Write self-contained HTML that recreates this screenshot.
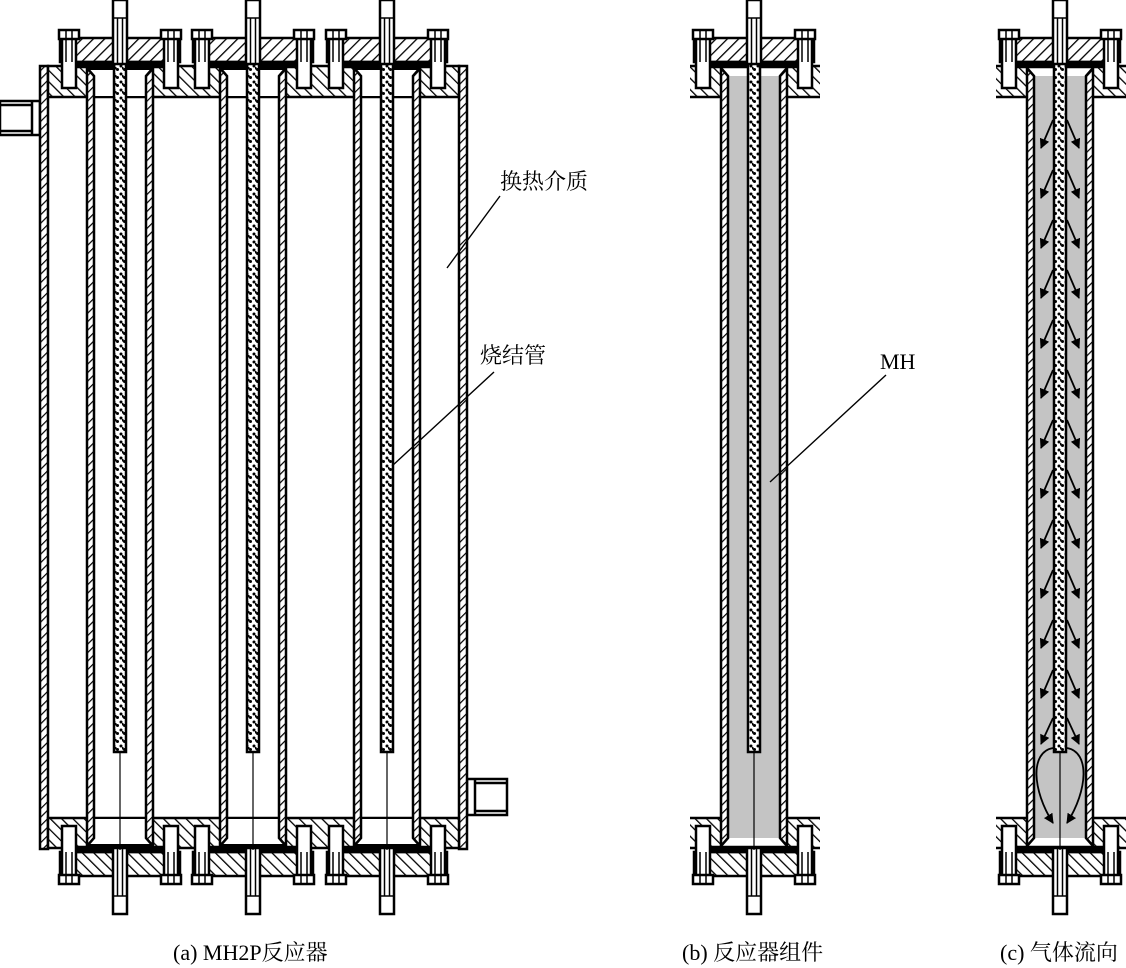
<!DOCTYPE html>
<html><head><meta charset="utf-8"><style>
html,body{margin:0;padding:0;background:#fff;width:1126px;height:968px;overflow:hidden}
svg{display:block}
text{font-family:"Liberation Serif","Noto Serif CJK SC","Noto Sans CJK SC",serif;font-size:22px;fill:#000}
</style></head><body>
<svg width="1126" height="968" viewBox="0 0 1126 968" xmlns="http://www.w3.org/2000/svg">
<defs>
<pattern id="hA" patternUnits="userSpaceOnUse" width="8" height="8" patternTransform="rotate(45)">
<rect width="8" height="8" fill="#fff"/><line x1="0" y1="0" x2="0" y2="8" stroke="#000" stroke-width="2.6"/></pattern>
<pattern id="hB" patternUnits="userSpaceOnUse" width="8" height="8" patternTransform="rotate(-45)">
<rect width="8" height="8" fill="#fff"/><line x1="0" y1="0" x2="0" y2="8" stroke="#000" stroke-width="2.6"/></pattern>
<pattern id="hW" patternUnits="userSpaceOnUse" width="6" height="6" patternTransform="rotate(45)">
<rect width="6" height="6" fill="#fff"/><line x1="0" y1="0" x2="0" y2="6" stroke="#000" stroke-width="2.4"/></pattern>
<pattern id="dots" patternUnits="userSpaceOnUse" width="7" height="8">
<rect width="7" height="8" fill="#fff"/><circle cx="2" cy="2" r="1.5" fill="#000"/><circle cx="5.5" cy="5.5" r="1.5" fill="#000"/><rect x="3" y="3" width="1.5" height="2.5" fill="#000"/></pattern>
<marker id="ar" markerWidth="10" markerHeight="10" refX="9" refY="5" orient="auto" markerUnits="userSpaceOnUse"><path d="M0,0 L10,5 L0,10 Z" fill="#000"/></marker>

<g id="cap" stroke="#000" stroke-width="2.5">
<rect x="-60" y="38" width="120" height="24" fill="url(#hA)"/>
<rect x="-58" y="38" width="14" height="50" fill="#fff"/>
<rect x="44" y="38" width="14" height="50" fill="#fff"/>
<rect x="-61" y="30" width="20" height="9" fill="#fff"/>
<rect x="41" y="30" width="20" height="9" fill="#fff"/>
<line x1="-54" y1="30" x2="-54" y2="62" stroke-width="1.5"/><line x1="-48" y1="30" x2="-48" y2="62" stroke-width="1.5"/>
<line x1="48" y1="30" x2="48" y2="62" stroke-width="1.5"/><line x1="54" y1="30" x2="54" y2="62" stroke-width="1.5"/>
<rect x="-42" y="62" width="84" height="5" fill="#000"/>
<rect x="-7" y="0" width="14" height="66" fill="#fff"/>
<line x1="-2.5" y1="18" x2="-2.5" y2="66" stroke-width="1.5"/><line x1="2.5" y1="18" x2="2.5" y2="66" stroke-width="1.5"/>
<line x1="-7" y1="18" x2="7" y2="18" stroke-width="1.5"/>
</g>
<g id="tube" stroke="#000" stroke-width="2.5">
<path d="M-33,68 L-26,76 L-26,838 L-33,846 Z" fill="url(#hW)"/>
<path d="M33,68 L26,76 L26,838 L33,846 Z" fill="url(#hW)"/>
</g>
</defs>

<g stroke="#000" stroke-width="2.5" fill="#fff">
<rect x="0" y="101" width="40" height="34"/>
<line x1="0" y1="105" x2="32" y2="105"/><line x1="0" y1="131" x2="32" y2="131"/><line x1="32" y1="101" x2="32" y2="135"/>
<rect x="467" y="779" width="40" height="36"/>
<line x1="475" y1="779" x2="475" y2="815"/><line x1="475" y1="783" x2="507" y2="783"/><line x1="475" y1="811" x2="507" y2="811"/>
</g>
<rect x="40" y="66" width="8" height="783" fill="url(#hW)" stroke="#000" stroke-width="2.5"/>
<rect x="459" y="66" width="8" height="783" fill="url(#hW)" stroke="#000" stroke-width="2.5"/>
<rect x="48" y="66" width="411" height="31" fill="url(#hB)" stroke="#000" stroke-width="2.5"/>
<rect x="48" y="818" width="411" height="30" fill="url(#hB)" stroke="#000" stroke-width="2.5"/>
<g fill="#fff">
<rect x="87" y="68" width="66" height="29"/><rect x="87" y="818" width="66" height="28"/>
<rect x="220" y="68" width="66" height="29"/><rect x="220" y="818" width="66" height="28"/>
<rect x="354" y="68" width="66" height="29"/><rect x="354" y="818" width="66" height="28"/>
</g>
<g stroke="#000" stroke-width="2">
<line x1="87" y1="69" x2="153" y2="69"/><line x1="220" y1="69" x2="286" y2="69"/><line x1="354" y1="69" x2="420" y2="69"/>
<line x1="87" y1="845" x2="153" y2="845"/><line x1="220" y1="845" x2="286" y2="845"/><line x1="354" y1="845" x2="420" y2="845"/>
<line x1="48" y1="97" x2="459" y2="97"/><line x1="48" y1="818" x2="459" y2="818"/>
</g>
<use href="#tube" x="120"/><use href="#tube" x="253"/><use href="#tube" x="387"/>
<g transform="translate(120,0)"><use href="#cap"/><use href="#cap" transform="translate(0,914) scale(1,-1)"/></g>
<g transform="translate(253,0)"><use href="#cap"/><use href="#cap" transform="translate(0,914) scale(1,-1)"/></g>
<g transform="translate(387,0)"><use href="#cap"/><use href="#cap" transform="translate(0,914) scale(1,-1)"/></g>
<g stroke="#000" stroke-width="2.5" fill="url(#dots)">
<rect x="114" y="64" width="12" height="688"/>
<rect x="247" y="64" width="12" height="688"/>
<rect x="381" y="64" width="12" height="688"/>
</g>
<g stroke="#000" stroke-width="1.2">
<line x1="120" y1="752" x2="120" y2="850"/><line x1="253" y1="752" x2="253" y2="850"/><line x1="387" y1="752" x2="387" y2="850"/>
</g>
<text x="500" y="189">换热介质</text>
<line x1="500" y1="196" x2="447" y2="268" stroke="#000" stroke-width="1.4"/>
<text x="480" y="363">烧结管</text>
<line x1="494" y1="372" x2="392" y2="466" stroke="#000" stroke-width="1.4"/>
<text x="173" y="960">(a) MH2P反应器</text>

<rect x="690" y="66" width="130" height="31" fill="url(#hB)"/>
<rect x="690" y="818" width="130" height="30" fill="url(#hB)"/>
<g stroke="#000" stroke-width="2.5"><line x1="690" y1="66" x2="820" y2="66"/><line x1="690" y1="97" x2="820" y2="97"/><line x1="690" y1="818" x2="820" y2="818"/><line x1="690" y1="848" x2="820" y2="848"/></g>
<rect x="721" y="68" width="66" height="29" fill="#fff"/><rect x="721" y="818" width="66" height="28" fill="#fff"/>
<rect x="727" y="76" width="54" height="762" fill="#c4c4c4"/>
<use href="#tube" x="754"/>
<g transform="translate(754,0)"><use href="#cap"/><use href="#cap" transform="translate(0,914) scale(1,-1)"/></g>
<rect x="748" y="64" width="12" height="688" fill="url(#dots)" stroke="#000" stroke-width="2.5"/>
<line x1="754" y1="752" x2="754" y2="850" stroke="#000" stroke-width="1.2"/>
<text x="880" y="369">MH</text>
<line x1="886" y1="375" x2="770" y2="482" stroke="#000" stroke-width="1.4"/>
<text x="682" y="960">(b) 反应器组件</text>

<rect x="996" y="66" width="130" height="31" fill="url(#hB)"/>
<rect x="996" y="818" width="130" height="30" fill="url(#hB)"/>
<g stroke="#000" stroke-width="2.5"><line x1="996" y1="66" x2="1126" y2="66"/><line x1="996" y1="97" x2="1126" y2="97"/><line x1="996" y1="818" x2="1126" y2="818"/><line x1="996" y1="848" x2="1126" y2="848"/></g>
<rect x="1027" y="68" width="66" height="29" fill="#fff"/><rect x="1027" y="818" width="66" height="28" fill="#fff"/>
<rect x="1033" y="76" width="54" height="762" fill="#c4c4c4"/>
<use href="#tube" x="1060"/>
<g transform="translate(1060,0)"><use href="#cap"/><use href="#cap" transform="translate(0,914) scale(1,-1)"/></g>
<rect x="1054" y="64" width="12" height="688" fill="url(#dots)" stroke="#000" stroke-width="2.5"/>
<line x1="1060" y1="752" x2="1060" y2="850" stroke="#000" stroke-width="1.2"/>
<g stroke="#000" stroke-width="1.8" fill="none" marker-end="url(#ar)">
<path d="M1053,120 L1041,148"/><path d="M1067,120 L1079,148"/>
<path d="M1053,170 L1041,198"/><path d="M1067,170 L1079,198"/>
<path d="M1053,220 L1041,248"/><path d="M1067,220 L1079,248"/>
<path d="M1053,270 L1041,298"/><path d="M1067,270 L1079,298"/>
<path d="M1053,320 L1041,348"/><path d="M1067,320 L1079,348"/>
<path d="M1053,370 L1041,398"/><path d="M1067,370 L1079,398"/>
<path d="M1053,420 L1041,448"/><path d="M1067,420 L1079,448"/>
<path d="M1053,470 L1041,498"/><path d="M1067,470 L1079,498"/>
<path d="M1053,520 L1041,548"/><path d="M1067,520 L1079,548"/>
<path d="M1053,570 L1041,598"/><path d="M1067,570 L1079,598"/>
<path d="M1053,620 L1041,648"/><path d="M1067,620 L1079,648"/>
<path d="M1053,670 L1041,698"/><path d="M1067,670 L1079,698"/>
<path d="M1053,718 L1041,744"/><path d="M1067,718 L1079,744"/>
<path d="M1053,748 C1030,752 1032,790 1053,823"/>
<path d="M1067,748 C1090,752 1088,790 1067,823"/>
</g>
<text x="1000" y="960">(c) 气体流向</text>
</svg>
</body></html>
